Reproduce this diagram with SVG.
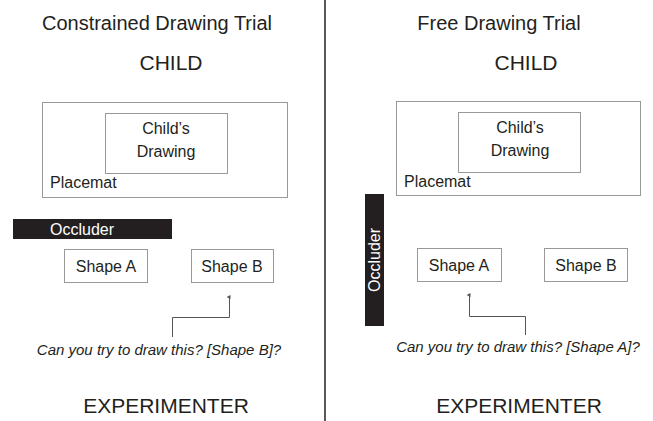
<svg xmlns="http://www.w3.org/2000/svg" width="653" height="421" viewBox="0 0 653 421">
<style>
text{font-family:"Liberation Sans",Arial,sans-serif;fill:#231f20;}
.title{font-size:20px;text-anchor:middle;}
.big{font-size:21px;text-anchor:middle;}
.lbl{font-size:16px;}
.mid{text-anchor:middle;}
.box{fill:#fff;stroke:#999;stroke-width:1;}
.occ{fill:#231f20;}
.occt{fill:#fff;font-size:16px;}
.q{font-size:15px;font-style:italic;text-anchor:middle;}
.conn{fill:none;stroke:#555;stroke-width:1;}
</style>
<defs>
<marker id="ah" markerWidth="4" markerHeight="4" refX="2" refY="3" orient="auto" markerUnits="userSpaceOnUse" viewBox="0 0 4 4">
<path d="M0,4 L2,0 L4,4 Z" fill="#555"/>
</marker>
</defs>
<rect width="653" height="421" fill="#fff"/>
<line x1="325" y1="0" x2="325" y2="421" stroke="#231f20" stroke-width="1.5"/>

<g id="left-panel">
<text class="title" x="157" y="30">Constrained Drawing Trial</text>
<text class="big" x="171" y="70">CHILD</text>
<g id="placemat-left">
<rect class="box" x="42.5" y="102.5" width="245" height="95"/>
<text class="lbl" x="50" y="188">Placemat</text>
</g>
<g id="drawing-left">
<rect class="box" x="105.5" y="113.5" width="122" height="60"/>
<text class="lbl mid" x="166" y="134">Child’s</text>
<text class="lbl mid" x="166" y="157">Drawing</text>
</g>
<g id="occluder-left">
<rect class="occ" x="13" y="219" width="159" height="20"/>
<text class="occt" x="50" y="235">Occluder</text>
</g>
<g id="shapeA-left">
<rect class="box" x="64.5" y="249.5" width="83" height="33"/>
<text class="lbl mid" x="106" y="272">Shape A</text>
</g>
<g id="shapeB-left">
<rect class="box" x="191.5" y="249.5" width="82" height="33"/>
<text class="lbl mid" x="232" y="272">Shape B</text>
</g>
<text class="q" x="159" y="355">Can you try to draw this? [Shape B]?</text>
<text class="big" x="166" y="413">EXPERIMENTER</text>
</g>

<g id="right-panel">
<text class="title" x="499" y="30">Free Drawing Trial</text>
<text class="big" x="526" y="70">CHILD</text>
<g id="placemat-right">
<rect class="box" x="396.5" y="101.5" width="244" height="94"/>
<text class="lbl" x="404" y="187">Placemat</text>
</g>
<g id="drawing-right">
<rect class="box" x="458.5" y="112.5" width="122" height="60"/>
<text class="lbl mid" x="520" y="133">Child’s</text>
<text class="lbl mid" x="520" y="156">Drawing</text>
</g>
<g id="occluder-right">
<rect class="occ" x="365" y="194" width="19" height="132"/>
<text class="occt mid" transform="translate(380,260) rotate(-90)" x="0" y="0">Occluder</text>
</g>
<g id="shapeA-right">
<rect class="box" x="417.5" y="248.5" width="84" height="33"/>
<text class="lbl mid" x="459" y="271">Shape A</text>
</g>
<g id="shapeB-right">
<rect class="box" x="544.5" y="248.5" width="83" height="33"/>
<text class="lbl mid" x="586" y="271">Shape B</text>
</g>
<text class="q" x="518" y="352">Can you try to draw this? [Shape A]?</text>
<text class="big" x="519" y="413">EXPERIMENTER</text>
</g>

<g id="connectors">
<polyline class="conn" points="172.5,337 172.5,317.5 229.5,317.5 229.5,297" marker-end="url(#ah)"/>
<polyline class="conn" points="525.5,335 525.5,316.5 469.5,316.5 469.5,295" marker-end="url(#ah)"/>
</g>
</svg>
